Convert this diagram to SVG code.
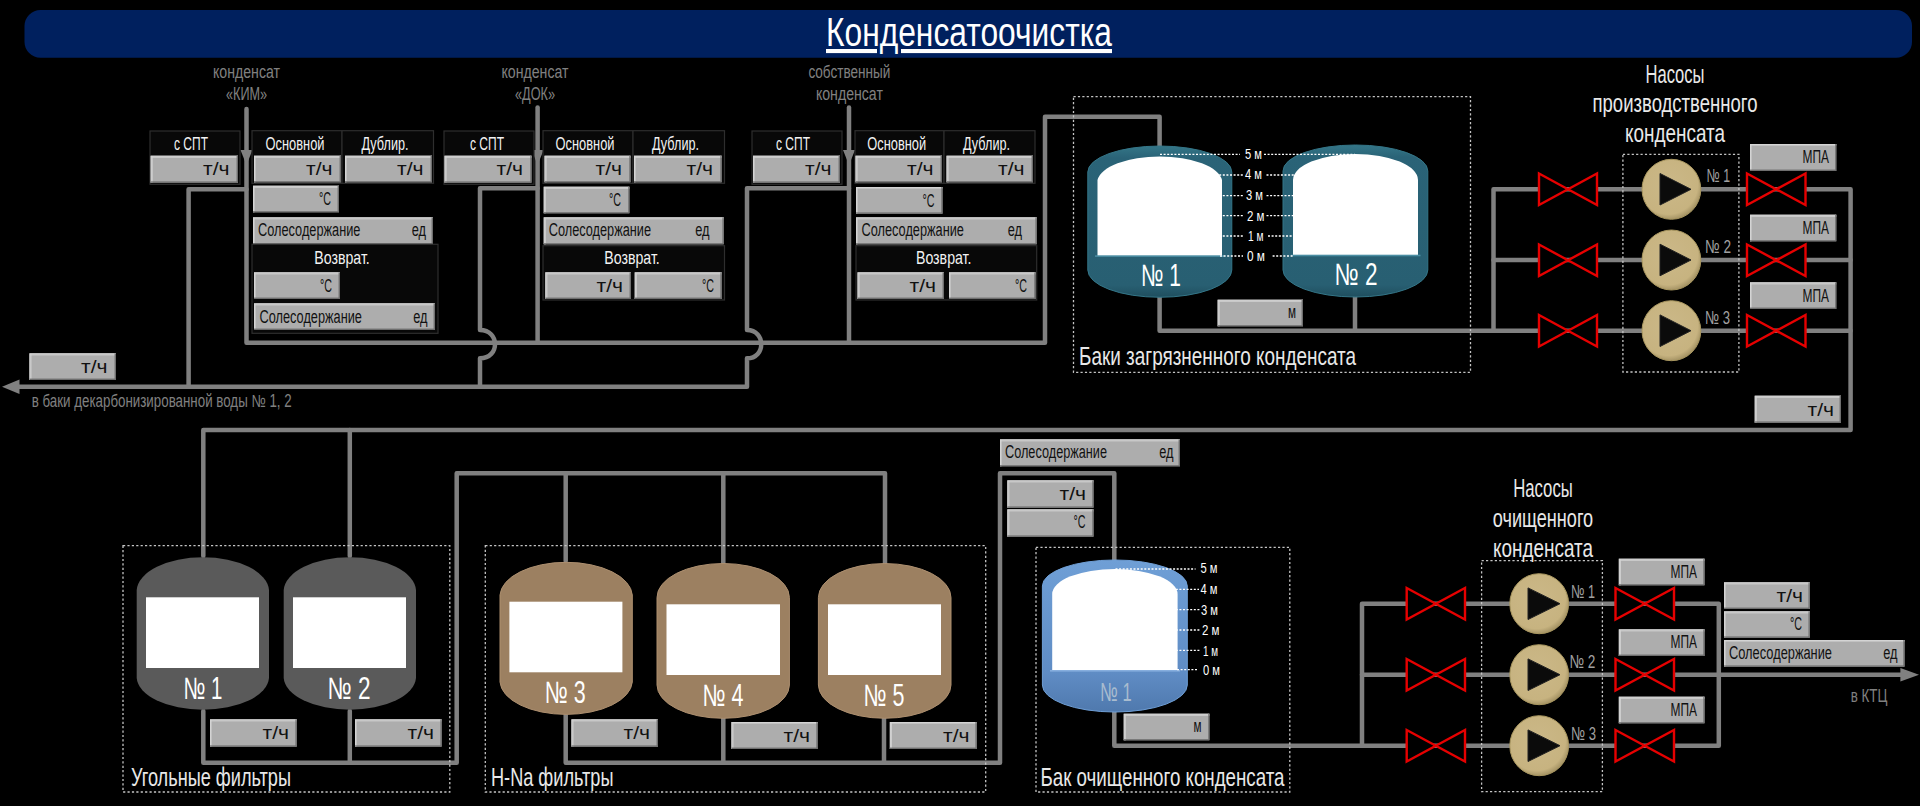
<svg xmlns="http://www.w3.org/2000/svg" width="1920" height="806" viewBox="0 0 1920 806">
<style>
text{font-family:"Liberation Sans Narrow","Liberation Sans",Arial,sans-serif;}
.pipe{fill:none;stroke:#808080;stroke-width:4.5;stroke-linejoin:round;stroke-linecap:round}
.head{fill:#808080}
.frame{fill:none;stroke:#c4c4c4;stroke-width:1.3;stroke-dasharray:2.2 2.2}
.lvl{fill:none;stroke:#fff;stroke-width:1.3;stroke-dasharray:2 1.6}
.box{fill:#adadad;filter:url(#bev)}
.panel{fill:#080808;stroke:#2e2e2e;stroke-width:1.2}
.v{font-size:18px;fill:#111;text-anchor:end}
.s{font-size:18px;fill:#111}
.h{font-size:18.5px;fill:#f2f2f2;text-anchor:middle}
.g{font-size:17.5px;fill:#808080;text-anchor:middle}
.l{font-size:25px;fill:#e8e8e8}
.c{font-size:25px;fill:#e8e8e8;text-anchor:middle}
.n{font-size:31px;fill:#fff;text-anchor:middle}
.m{font-size:14px;fill:#fff}
.pn{font-size:19px;fill:#a0a0a0}
.white{fill:#fff}
.teal{fill:url(#tealG);stroke:#347688;stroke-width:1}
.dark{fill:#5a5a5a}
.brown{fill:#9c8061;stroke:#ad8f6f;stroke-width:1}
.blue{fill:url(#blueG);stroke:#6f9fd6;stroke-width:1}
.valve{fill:#000;stroke:#e60000;stroke-width:2.4;stroke-linejoin:miter}
.pump{fill:url(#pumpG);stroke:#a8965f;stroke-width:1}
.tri{fill:#0b0b0b;stroke:#222;stroke-width:1}
</style>
<defs>
<filter id="bev" x="0" y="0" width="100%" height="100%">
<feOffset in="SourceAlpha" dx="-1.5" dy="-1.5" result="a"/>
<feComposite in="SourceAlpha" in2="a" operator="out" result="br"/>
<feFlood flood-color="#6e6e6e"/>
<feComposite in2="br" operator="in" result="dk"/>
<feOffset in="SourceAlpha" dx="1.5" dy="1.5" result="b"/>
<feComposite in="SourceAlpha" in2="b" operator="out" result="tl"/>
<feFlood flood-color="#d4d4d4"/>
<feComposite in2="tl" operator="in" result="lt"/>
<feMerge><feMergeNode in="SourceGraphic"/><feMergeNode in="lt"/><feMergeNode in="dk"/></feMerge>
</filter>
<linearGradient id="tealG" x1="0" y1="0" x2="0" y2="1"><stop offset="0" stop-color="#347688"/><stop offset=".08" stop-color="#2a6377"/><stop offset=".92" stop-color="#285f72"/><stop offset="1" stop-color="#1f4e5e"/></linearGradient>
<linearGradient id="blueG" x1="0" y1="0" x2="0" y2="1"><stop offset="0" stop-color="#6f9fd6"/><stop offset=".75" stop-color="#5f8cc4"/><stop offset="1" stop-color="#4f79ad"/></linearGradient>
<radialGradient id="pumpG" cx=".45" cy=".42" r=".62"><stop offset="0" stop-color="#cbb888"/><stop offset=".8" stop-color="#c7b380"/><stop offset="1" stop-color="#98875a"/></radialGradient>
</defs>
<rect width="1920" height="806" fill="#000"/>

<g id="title">
<rect x="24.5" y="10" width="1887.5" height="47.7" rx="16" fill="#00205e"/>
<text x="969" y="46" font-size="41" fill="#fff" text-anchor="middle" text-decoration="underline" textLength="286" lengthAdjust="spacingAndGlyphs">Конденсатоочистка</text>
</g>

<g id="connectors">
<path class="pipe" d="M246.5 109V342.7H1045V116.7H1159.6V147"/>
<path class="pipe" d="M537.6 107.5V342.7"/>
<path class="pipe" d="M849 107.5V342.7"/>
<path class="pipe" d="M246.5 189.3H188.6V386.7"/>
<path class="pipe" d="M537.6 188.3H480V330C500 330 500 358.3 480 358.3V386.7"/>
<path class="pipe" d="M849 188.3H747V330C766 330 766 358.3 747 358.3V386.7H15"/>
<polygon class="head" points="2,386.7 19.5,379.5 19.5,394"/>
<polygon class="head" points="240.5,150 252.5,150 246.5,165"/>
<polygon class="head" points="531.6,150 543.6,150 537.6,165"/>
<polygon class="head" points="843,150 855,150 849,165"/>
<path class="pipe" d="M1159.6 297V330.7H1493.5"/>
<path class="pipe" d="M1355 297V330.7"/>
<path class="pipe" d="M1493.5 330.7H1850.6V430H203.3V556"/>
<path class="pipe" d="M1493.5 330.7V189.3H1850.6V330.7"/>
<path class="pipe" d="M1493.5 260H1850.6"/>
<path class="pipe" d="M349.8 430V556"/>
<path class="pipe" d="M203.3 711V762.7H456.7V473.3H885V563"/>
<path class="pipe" d="M349.8 711V762.7"/>
<path class="pipe" d="M565.7 473.3V561"/>
<path class="pipe" d="M723.3 473.3V563"/>
<path class="pipe" d="M565.7 715V762.7H1000V473.3H1114.3V561"/>
<path class="pipe" d="M723.3 718V762.7"/>
<path class="pipe" d="M884 718V762.7"/>
<path class="pipe" d="M1114.3 712V745.7H1362"/>
<path class="pipe" d="M1362 745.7V603.7H1718.8V745.7H1362"/>
<path class="pipe" d="M1362 674.7H1905"/>
<polygon class="head" points="1919,674.7 1900.4,668 1900.4,681.4"/>
</g>

<g id="frames">
<rect class="frame" x="1073.5" y="96.7" width="397" height="275.6"/>
<rect class="frame" x="1622.9" y="154.3" width="116" height="217.7"/>
<rect class="frame" x="123" y="545.7" width="326.8" height="246.3"/>
<rect class="frame" x="485.3" y="545.7" width="500.4" height="246.3"/>
<rect class="frame" x="1036" y="547.3" width="253.8" height="244.7"/>
<rect class="frame" x="1481.6" y="560.7" width="120.8" height="231"/>
</g>

<g id="panel-kim">
<rect class="panel" x="150" y="131" width="90" height="53.3"/>
<text class="h" x="191" y="150" textLength="34" lengthAdjust="spacingAndGlyphs">с СПТ</text>
<rect class="box" x="150.6" y="155.7" width="87.4" height="27"/><text class="v" x="229.5" y="175" textLength="26.5" lengthAdjust="spacingAndGlyphs">т/ч</text>
<rect class="panel" x="252" y="130.7" width="90" height="52.6"/><rect class="panel" x="342" y="130.7" width="91.5" height="52.6"/>
<text class="h" x="295" y="150" textLength="59" lengthAdjust="spacingAndGlyphs">Основной</text>
<text class="h" x="385" y="150" textLength="47" lengthAdjust="spacingAndGlyphs">Дублир.</text>
<rect class="box" x="254" y="155.7" width="87" height="26.6"/><text class="v" x="332.5" y="175" textLength="26.5" lengthAdjust="spacingAndGlyphs">т/ч</text>
<rect class="box" x="345" y="155.7" width="87" height="26.6"/><text class="v" x="423.5" y="175" textLength="26.5" lengthAdjust="spacingAndGlyphs">т/ч</text>
<rect class="box" x="253" y="185.7" width="86" height="26.6"/><text class="v" x="331" y="205" textLength="12" lengthAdjust="spacingAndGlyphs">°C</text>
<rect class="box" x="253" y="217.3" width="180" height="27"/><text class="s" x="258" y="236" textLength="102.4" lengthAdjust="spacingAndGlyphs">Солесодержание</text><text class="v" x="426" y="236" textLength="14.3" lengthAdjust="spacingAndGlyphs">ед</text>
<rect class="panel" x="252" y="244.3" width="186" height="89"/>
<text class="h" x="342" y="264.3" textLength="55.5" lengthAdjust="spacingAndGlyphs">Возврат.</text>
<rect class="box" x="254" y="272.3" width="86" height="26.7"/><text class="v" x="332" y="292" textLength="12" lengthAdjust="spacingAndGlyphs">°C</text>
<rect class="box" x="254" y="303.3" width="181" height="26.7"/><text class="s" x="259.5" y="322.5" textLength="102.4" lengthAdjust="spacingAndGlyphs">Солесодержание</text><text class="v" x="427.5" y="322.5" textLength="14.3" lengthAdjust="spacingAndGlyphs">ед</text>
</g>

<g id="panel-dok">
<rect class="panel" x="444" y="131" width="90" height="53.3"/>
<text class="h" x="487" y="150" textLength="34" lengthAdjust="spacingAndGlyphs">с СПТ</text>
<rect class="box" x="444.5" y="155.7" width="87" height="27"/><text class="v" x="523" y="175" textLength="26.5" lengthAdjust="spacingAndGlyphs">т/ч</text>
<rect class="panel" x="543" y="130.7" width="90" height="52.6"/><rect class="panel" x="633" y="130.7" width="91.5" height="52.6"/>
<text class="h" x="585" y="150" textLength="59" lengthAdjust="spacingAndGlyphs">Основной</text>
<text class="h" x="675.5" y="150" textLength="47" lengthAdjust="spacingAndGlyphs">Дублир.</text>
<rect class="box" x="544.5" y="155.7" width="86" height="26.6"/><text class="v" x="622" y="175" textLength="26.5" lengthAdjust="spacingAndGlyphs">т/ч</text>
<rect class="box" x="634" y="155.7" width="87.6" height="26.6"/><text class="v" x="713" y="175" textLength="26.5" lengthAdjust="spacingAndGlyphs">т/ч</text>
<rect class="box" x="543.7" y="186.7" width="85.7" height="26.6"/><text class="v" x="621" y="206" textLength="12" lengthAdjust="spacingAndGlyphs">°C</text>
<rect class="box" x="543.7" y="217.3" width="180" height="27"/><text class="s" x="548.7" y="236" textLength="102.4" lengthAdjust="spacingAndGlyphs">Солесодержание</text><text class="v" x="709.5" y="236" textLength="14.3" lengthAdjust="spacingAndGlyphs">ед</text>
<rect class="panel" x="543" y="245.7" width="181.5" height="54.3"/>
<text class="h" x="632" y="264.3" textLength="55.5" lengthAdjust="spacingAndGlyphs">Возврат.</text>
<rect class="box" x="545.3" y="272.3" width="85.7" height="26.7"/><text class="v" x="623" y="292" textLength="26.5" lengthAdjust="spacingAndGlyphs">т/ч</text>
<rect class="box" x="634.7" y="272.3" width="86.9" height="26.7"/><text class="v" x="714" y="292" textLength="12" lengthAdjust="spacingAndGlyphs">°C</text>
</g>

<g id="panel-own">
<rect class="panel" x="752" y="131" width="90" height="53.3"/>
<text class="h" x="793" y="150" textLength="34" lengthAdjust="spacingAndGlyphs">с СПТ</text>
<rect class="box" x="753" y="155.7" width="87" height="27"/><text class="v" x="831.5" y="175" textLength="26.5" lengthAdjust="spacingAndGlyphs">т/ч</text>
<rect class="panel" x="855" y="130.7" width="89" height="52.6"/><rect class="panel" x="944" y="130.7" width="91" height="52.6"/>
<text class="h" x="896.7" y="150" textLength="59" lengthAdjust="spacingAndGlyphs">Основной</text>
<text class="h" x="986.5" y="150" textLength="47" lengthAdjust="spacingAndGlyphs">Дублир.</text>
<rect class="box" x="855.5" y="155.7" width="86.5" height="26.6"/><text class="v" x="933.5" y="175" textLength="26.5" lengthAdjust="spacingAndGlyphs">т/ч</text>
<rect class="box" x="946.5" y="155.7" width="86.5" height="26.6"/><text class="v" x="1024.5" y="175" textLength="26.5" lengthAdjust="spacingAndGlyphs">т/ч</text>
<rect class="box" x="856" y="187" width="86.5" height="26.7"/><text class="v" x="934.5" y="206.5" textLength="12" lengthAdjust="spacingAndGlyphs">°C</text>
<rect class="box" x="856" y="217.3" width="180.7" height="27"/><text class="s" x="861.5" y="236" textLength="102.4" lengthAdjust="spacingAndGlyphs">Солесодержание</text><text class="v" x="1022" y="236" textLength="14.3" lengthAdjust="spacingAndGlyphs">ед</text>
<rect class="panel" x="856" y="245.7" width="180.7" height="54.3"/>
<text class="h" x="943.7" y="264.3" textLength="55.5" lengthAdjust="spacingAndGlyphs">Возврат.</text>
<rect class="box" x="857.5" y="272.3" width="86.5" height="26.7"/><text class="v" x="936" y="292" textLength="26.5" lengthAdjust="spacingAndGlyphs">т/ч</text>
<rect class="box" x="949" y="272.3" width="86.5" height="26.7"/><text class="v" x="1027" y="292" textLength="12" lengthAdjust="spacingAndGlyphs">°C</text>
</g>

<g id="labels-in">
<text class="g" x="246.5" y="78.3" textLength="67" lengthAdjust="spacingAndGlyphs">конденсат</text>
<text class="g" x="246.5" y="100" textLength="41" lengthAdjust="spacingAndGlyphs">«КИМ»</text>
<text class="g" x="535" y="78.3" textLength="67" lengthAdjust="spacingAndGlyphs">конденсат</text>
<text class="g" x="535" y="100" textLength="40" lengthAdjust="spacingAndGlyphs">«ДОК»</text>
<text class="g" x="849.4" y="78.3" textLength="82" lengthAdjust="spacingAndGlyphs">собственный</text>
<text class="g" x="849.4" y="100" textLength="67" lengthAdjust="spacingAndGlyphs">конденсат</text>
<text class="g" x="161.7" y="406.7" textLength="260" lengthAdjust="spacingAndGlyphs">в баки декарбонизированной воды № 1, 2</text>
<text class="g" x="1869" y="702.3" textLength="36.7" lengthAdjust="spacingAndGlyphs">в КТЦ</text>
</g>

<g id="flow-return"><rect class="box" x="29.4" y="353.3" width="86.6" height="26.7"/><text class="v" x="107.5" y="373" textLength="26.5" lengthAdjust="spacingAndGlyphs">т/ч</text></g>

<g id="tank-dirty-1">
<path class="teal" d="M1087.8 172A72 26 0 0 1 1231.8 172V270A72 27.3 0 0 1 1087.8 270Z"/>
<path class="white" d="M1097.5 180A62.5 25.7 0 0 1 1222 180V256H1097.5Z"/>
<rect x="1095" y="255.3" width="129.5" height="1.6" fill="#4b8ea3"/>
<text class="n" x="1161" y="285.7" textLength="40" lengthAdjust="spacingAndGlyphs">№ 1</text>
</g>
<g id="tank-dirty-2">
<path class="teal" d="M1283 171A72.4 26 0 0 1 1427.8 171V270A72.4 27 0 0 1 1283 270Z"/>
<path class="white" d="M1293 180A62.5 26 0 0 1 1418 180V255.3H1293Z"/>
<rect x="1291" y="254.7" width="129.5" height="1.6" fill="#4b8ea3"/>
<text class="n" x="1356" y="285" textLength="43" lengthAdjust="spacingAndGlyphs">№ 2</text>
</g>
<g id="levels-dirty">
<path class="lvl" d="M1160 154.3H1240M1264 154.3H1355M1212 175H1243M1266.5 175H1302.5M1212 195.7H1243M1266.5 195.7H1302.5M1212 215.7H1243M1266.5 215.7H1298M1212 236H1243M1268 236H1298M1220 256H1243M1272.6 256H1293"/>
<text class="m" x="1245" y="158.5" textLength="17" lengthAdjust="spacingAndGlyphs">5 м</text>
<text class="m" x="1245" y="178.8" textLength="17" lengthAdjust="spacingAndGlyphs">4 м</text>
<text class="m" x="1246" y="200" textLength="17" lengthAdjust="spacingAndGlyphs">3 м</text>
<text class="m" x="1247" y="220.5" textLength="17.5" lengthAdjust="spacingAndGlyphs">2 м</text>
<text class="m" x="1248" y="241" textLength="15.5" lengthAdjust="spacingAndGlyphs">1 м</text>
<text class="m" x="1247" y="261" textLength="18" lengthAdjust="spacingAndGlyphs">0 м</text>
</g>
<g id="level-dirty-box"><rect class="box" x="1217.6" y="299.7" width="85.4" height="26.6"/><text class="v" x="1296" y="318" textLength="8" lengthAdjust="spacingAndGlyphs">м</text></g>
<text id="label-dirty" class="l" x="1079" y="365" textLength="277" lengthAdjust="spacingAndGlyphs">Баки загрязненного конденсата</text>

<g id="title-pumps-1">
<text class="c" x="1675" y="82.7" textLength="59" lengthAdjust="spacingAndGlyphs">Насосы</text>
<text class="c" x="1675" y="111.7" textLength="165" lengthAdjust="spacingAndGlyphs">производственного</text>
<text class="c" x="1675" y="141.7" textLength="100" lengthAdjust="spacingAndGlyphs">конденсата</text>
</g>

<g id="line1-valve-in"><polygon class="valve" points="1539,173.5 1597,205 1597,173.5 1539,205"/></g>
<g id="line2-valve-in"><polygon class="valve" points="1539,244.5 1597,276 1597,244.5 1539,276"/></g>
<g id="line3-valve-in"><polygon class="valve" points="1539,315 1597,346.5 1597,315 1539,346.5"/></g>
<g id="line1-valve-out"><polygon class="valve" points="1747,173.5 1805.5,205 1805.5,173.5 1747,205"/></g>
<g id="line2-valve-out"><polygon class="valve" points="1747,244.5 1805.5,276 1805.5,244.5 1747,276"/></g>
<g id="line3-valve-out"><polygon class="valve" points="1747,315 1805.5,346.5 1805.5,315 1747,346.5"/></g>

<g id="pump-p1"><ellipse class="pump" cx="1671.4" cy="189.3" rx="29.4" ry="30"/><polygon class="tri" points="1660,173.5 1691,189.3 1660,205"/><text class="pn" x="1706.5" y="181.7" textLength="23.5" lengthAdjust="spacingAndGlyphs">№ 1</text></g>
<g id="pump-p2"><ellipse class="pump" cx="1671.4" cy="260" rx="29.4" ry="30"/><polygon class="tri" points="1660,244.2 1691,260 1660,275.8"/><text class="pn" x="1705" y="253.3" textLength="26" lengthAdjust="spacingAndGlyphs">№ 2</text></g>
<g id="pump-p3"><ellipse class="pump" cx="1671.4" cy="330.7" rx="29.4" ry="30"/><polygon class="tri" points="1660,314.9 1691,330.7 1660,346.5"/><text class="pn" x="1705" y="324.3" textLength="25" lengthAdjust="spacingAndGlyphs">№ 3</text></g>

<g id="mpa-p1"><rect class="box" x="1750" y="144" width="86.3" height="27"/><text class="v" x="1829" y="163.3" textLength="26.5" lengthAdjust="spacingAndGlyphs">МПА</text></g>
<g id="mpa-p2"><rect class="box" x="1750" y="214.7" width="86.3" height="26.6"/><text class="v" x="1829" y="234" textLength="26.5" lengthAdjust="spacingAndGlyphs">МПА</text></g>
<g id="mpa-p3"><rect class="box" x="1750" y="282.3" width="86.3" height="26.7"/><text class="v" x="1829" y="301.5" textLength="26.5" lengthAdjust="spacingAndGlyphs">МПА</text></g>
<g id="flow-p"><rect class="box" x="1754.7" y="395.7" width="86.3" height="27"/><text class="v" x="1834" y="415.7" textLength="26.5" lengthAdjust="spacingAndGlyphs">т/ч</text></g>

<g id="filter-c1">
<path class="dark" d="M136.7 590A66.2 34 0 0 1 269 590V678A66.2 33 0 0 1 136.7 678Z"/>
<rect class="white" x="146" y="597.3" width="113" height="70.7"/>
<text class="n" x="203" y="699" textLength="39" lengthAdjust="spacingAndGlyphs">№ 1</text>
</g>
<g id="filter-c2">
<path class="dark" d="M283.7 590A66.2 34 0 0 1 416 590V678A66.2 33 0 0 1 283.7 678Z"/>
<rect class="white" x="293" y="597.3" width="113" height="70.7"/>
<text class="n" x="349" y="699" textLength="43" lengthAdjust="spacingAndGlyphs">№ 2</text>
</g>
<g id="flow-c1"><rect class="box" x="210" y="719.3" width="86.7" height="27.4"/><text class="v" x="289" y="739.3" textLength="26.5" lengthAdjust="spacingAndGlyphs">т/ч</text></g>
<g id="flow-c2"><rect class="box" x="355" y="719.3" width="86.6" height="27.4"/><text class="v" x="434" y="739.3" textLength="26.5" lengthAdjust="spacingAndGlyphs">т/ч</text></g>
<text id="label-coal" class="l" x="131" y="785.7" textLength="160" lengthAdjust="spacingAndGlyphs">Угольные фильтры</text>

<g id="filter-h3">
<path class="brown" d="M500 595A66.2 34 0 0 1 632.3 595V682A66.2 33.7 0 0 1 500 682Z"/>
<rect class="white" x="509.4" y="601.7" width="113" height="70.6"/>
<text class="n" x="565.3" y="703.3" textLength="41" lengthAdjust="spacingAndGlyphs">№ 3</text>
</g>
<g id="filter-h4">
<path class="brown" d="M657 597.5A66.2 34 0 0 1 789.4 597.5V685A66.2 33.3 0 0 1 657 685Z"/>
<rect class="white" x="666.5" y="604.3" width="113.5" height="70.7"/>
<text class="n" x="723" y="706" textLength="41" lengthAdjust="spacingAndGlyphs">№ 4</text>
</g>
<g id="filter-h5">
<path class="brown" d="M818.4 597.5A66.3 34 0 0 1 951 597.5V685A66.3 33.3 0 0 1 818.4 685Z"/>
<rect class="white" x="828" y="604.3" width="113" height="70.7"/>
<text class="n" x="884" y="706" textLength="41" lengthAdjust="spacingAndGlyphs">№ 5</text>
</g>
<g id="flow-h3"><rect class="box" x="571.4" y="719.3" width="86.6" height="27.4"/><text class="v" x="650" y="739.3" textLength="26.5" lengthAdjust="spacingAndGlyphs">т/ч</text></g>
<g id="flow-h4"><rect class="box" x="731.4" y="722" width="86.2" height="27"/><text class="v" x="810" y="741.7" textLength="26.5" lengthAdjust="spacingAndGlyphs">т/ч</text></g>
<g id="flow-h5"><rect class="box" x="889.8" y="722" width="86.9" height="27"/><text class="v" x="969.5" y="741.7" textLength="26.5" lengthAdjust="spacingAndGlyphs">т/ч</text></g>
<text id="label-hna" class="l" x="491" y="785.7" textLength="122.5" lengthAdjust="spacingAndGlyphs">Н-Na фильтры</text>

<g id="salt-clean"><rect class="box" x="1000" y="439.3" width="180" height="27"/><text class="s" x="1005" y="458.3" textLength="102" lengthAdjust="spacingAndGlyphs">Солесодержание</text><text class="v" x="1173.5" y="458.3" textLength="14.3" lengthAdjust="spacingAndGlyphs">ед</text></g>
<g id="flow-clean"><rect class="box" x="1007.3" y="480.3" width="86.2" height="27.4"/><text class="v" x="1086" y="500" textLength="26.5" lengthAdjust="spacingAndGlyphs">т/ч</text></g>
<g id="temp-clean"><rect class="box" x="1007.3" y="509.3" width="86.2" height="27.4"/><text class="v" x="1085.5" y="528" textLength="12" lengthAdjust="spacingAndGlyphs">°C</text></g>

<g id="tank-clean">
<path class="blue" d="M1042.4 586A72.4 26 0 0 1 1187.3 586V685A72.4 27 0 0 1 1042.4 685Z"/>
<path class="white" d="M1052.2 594A62.7 25 0 0 1 1177.6 594V670.3H1052.2Z"/>
<rect x="1050" y="670" width="130" height="1.6" fill="#86aede"/>
<text x="1116" y="700.7" font-size="26" fill="#a9bccf" text-anchor="middle" textLength="31.5" lengthAdjust="spacingAndGlyphs">№ 1</text>
</g>
<g id="levels-clean">
<path class="lvl" d="M1115.5 569H1195.5M1168.6 589.3H1199M1168.6 609.7H1200M1168.6 630H1200M1168.6 650.3H1200M1177 669.7H1198"/>
<text class="m" x="1200.4" y="573" textLength="17" lengthAdjust="spacingAndGlyphs">5 м</text>
<text class="m" x="1200.4" y="593.5" textLength="17" lengthAdjust="spacingAndGlyphs">4 м</text>
<text class="m" x="1201" y="614.7" textLength="17" lengthAdjust="spacingAndGlyphs">3 м</text>
<text class="m" x="1202" y="635.3" textLength="17.5" lengthAdjust="spacingAndGlyphs">2 м</text>
<text class="m" x="1203" y="655.7" textLength="15" lengthAdjust="spacingAndGlyphs">1 м</text>
<text class="m" x="1203" y="675" textLength="17" lengthAdjust="spacingAndGlyphs">0 м</text>
</g>
<g id="level-clean-box"><rect class="box" x="1123.7" y="713.7" width="85.7" height="26.6"/><text class="v" x="1201.5" y="732.3" textLength="8" lengthAdjust="spacingAndGlyphs">м</text></g>
<text id="label-clean" class="l" x="1040.5" y="785.7" textLength="244" lengthAdjust="spacingAndGlyphs">Бак очищенного конденсата</text>

<g id="title-pumps-2">
<text class="c" x="1543" y="497.3" textLength="59.6" lengthAdjust="spacingAndGlyphs">Насосы</text>
<text class="c" x="1543" y="527.3" textLength="100.4" lengthAdjust="spacingAndGlyphs">очищенного</text>
<text class="c" x="1543" y="556.7" textLength="100" lengthAdjust="spacingAndGlyphs">конденсата</text>
</g>
<g id="line4-valve-in"><polygon class="valve" points="1406.7,588 1465,619.5 1465,588 1406.7,619.5"/></g>
<g id="line5-valve-in"><polygon class="valve" points="1406.7,659 1465,690.5 1465,659 1406.7,690.5"/></g>
<g id="line6-valve-in"><polygon class="valve" points="1406.7,730 1465,761.5 1465,730 1406.7,761.5"/></g>
<g id="line4-valve-out"><polygon class="valve" points="1615.5,588 1674,619.5 1674,588 1615.5,619.5"/></g>
<g id="line5-valve-out"><polygon class="valve" points="1615.5,659 1674,690.5 1674,659 1615.5,690.5"/></g>
<g id="line6-valve-out"><polygon class="valve" points="1615.5,730 1674,761.5 1674,730 1615.5,761.5"/></g>
<g id="pump-c1"><ellipse class="pump" cx="1539.2" cy="603.7" rx="29.4" ry="30"/><polygon class="tri" points="1528,587.9 1560,603.7 1528,619.5"/><text class="pn" x="1571" y="597.7" textLength="24" lengthAdjust="spacingAndGlyphs">№ 1</text></g>
<g id="pump-c2"><ellipse class="pump" cx="1539.2" cy="674.7" rx="29.4" ry="30"/><polygon class="tri" points="1528,658.9 1560,674.7 1528,690.5"/><text class="pn" x="1569.4" y="668" textLength="26" lengthAdjust="spacingAndGlyphs">№ 2</text></g>
<g id="pump-c3"><ellipse class="pump" cx="1539.2" cy="745.7" rx="29.4" ry="30"/><polygon class="tri" points="1528,729.9 1560,745.7 1528,761.5"/><text class="pn" x="1571" y="740" textLength="25" lengthAdjust="spacingAndGlyphs">№ 3</text></g>
<g id="mpa-c1"><rect class="box" x="1618.8" y="558.7" width="85.7" height="26.6"/><text class="v" x="1697" y="577.7" textLength="26.5" lengthAdjust="spacingAndGlyphs">МПА</text></g>
<g id="mpa-c2"><rect class="box" x="1618.8" y="629.3" width="85.7" height="26.7"/><text class="v" x="1697" y="648" textLength="26.5" lengthAdjust="spacingAndGlyphs">МПА</text></g>
<g id="mpa-c3"><rect class="box" x="1618.8" y="696.7" width="85.7" height="26.6"/><text class="v" x="1697" y="715.5" textLength="26.5" lengthAdjust="spacingAndGlyphs">МПА</text></g>
<g id="flow-out"><rect class="box" x="1724" y="582.3" width="85.8" height="26.7"/><text class="v" x="1803" y="602" textLength="26.5" lengthAdjust="spacingAndGlyphs">т/ч</text></g>
<g id="temp-out"><rect class="box" x="1724" y="611.3" width="85.8" height="26.4"/><text class="v" x="1802" y="630" textLength="12" lengthAdjust="spacingAndGlyphs">°C</text></g>
<g id="salt-out"><rect class="box" x="1724" y="640" width="180.5" height="26.7"/><text class="s" x="1729" y="659" textLength="103" lengthAdjust="spacingAndGlyphs">Солесодержание</text><text class="v" x="1897.5" y="659" textLength="14.3" lengthAdjust="spacingAndGlyphs">ед</text></g>
</svg>
